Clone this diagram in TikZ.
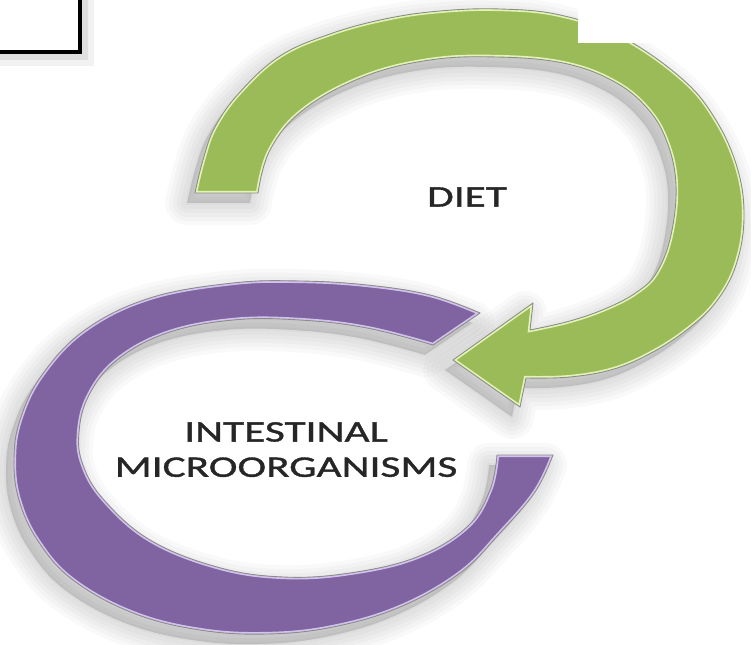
\documentclass[tikz,border=0pt]{standalone}
\usepackage{fontspec}
\usepackage{tikz}
\usetikzlibrary{positioning}
\newfontfamily\labelfont[FakeStretch=1.45,FakeBold=1.2]{Carlito}
\definecolor{dietgreen}{HTML}{9BBB59}
\definecolor{diethi}{HTML}{E2F5B4}
\definecolor{microviolet}{HTML}{8064A2}
\definecolor{microhi}{HTML}{D2C3EC}
\definecolor{rimgrey}{HTML}{8C8C8C}
\definecolor{labelgrey}{HTML}{262626}

\begin{document}
\begin{tikzpicture}[x=0.02cm, y=-0.02cm,
    lbl/.style={font=\labelfont\fontsize{17}{20}\selectfont, text=labelgrey, inner sep=0pt},
    softshadow/.style={fill=black, draw=black, fill opacity=0.025, draw opacity=0.025, line join=round},
    rim/.style={draw=rimgrey, line width=0.5pt, line join=round}]
\useasboundingbox (0,0) rectangle (751,645);
% outline of the green arrow and of the purple ring, in pixels
\def\greenring{plot[smooth, tension=0.65] coordinates {(195,193) (203,160) (215,127) (240,92) (280,56) (330,34) (385,19) (440,11) (500,9) (560,15) (620,36) (680,77) (714,117) (737,167) (744,217) (736,265) (716,302) (688,329) (653,352) (614,369) (570,377) (526,378)}
  -- (520,407) -- (453,360) -- (533,303) -- (530,330)
  -- plot[smooth, tension=0.65] coordinates {(530,330) (570,321) (607,308) (637,292) (657,272) (671,235) (676,185) (667,142) (647,108) (613,81) (563,63) (497,57) (430,60) (363,77) (303,110) (270,150) (258,193)} -- cycle}
\def\purplering{plot[smooth, tension=0.65] coordinates {(480,313) (430,295) (367,285) (300,281) (233,283) (150,298) (85,330) (42,375) (20,420) (14,460) (19,500) (38,541) (73,580) (133,613) (200,630) (267,634) (333,627) (400,607) (460,573) (500,533) (535,492) (553,455)}
  -- (497,455)
  -- plot[smooth, tension=0.65] coordinates {(497,455) (490,490) (467,527) (417,557) (350,573) (283,577) (217,567) (150,540) (104,500) (83,465) (79,432) (89,395) (117,360) (167,333) (233,320) (300,320) (367,328) (433,345)} -- cycle}

% soft shadows
\foreach \w in {44,36,28,20,12,4}{
  \path[softshadow, line width=\w*0.569pt, shift={(-8,10)}] \greenring;
  \path[softshadow, line width=\w*0.569pt, shift={(-8,10)}] \purplering;
}

% green arrow
\fill[dietgreen] \greenring;
\begin{scope}
  \clip \greenring;
  \draw[diethi, line width=2.4pt] \greenring;
\end{scope}
\draw[rim] \greenring;

% purple ring
\fill[microviolet] \purplering;
\begin{scope}
  \clip \purplering;
  \draw[microhi, line width=2.4pt] \purplering;
\end{scope}
\draw[rim] \purplering;

% patch over the top right
\fill[white] (578,-10) rectangle (760,43);

% corner of the box at top left
\draw[black!5, line width=9pt] (-20,-20) rectangle (86,58);
\draw[black!12, line width=4pt] (-20,-20) rectangle (84,56);
\draw[black, line width=2.3pt] (-20,-20) rectangle (80,52);

\node[lbl] (diet) at (467,197) {DIET};
\node[lbl] (intest) at (286,432) {INTESTINAL};
\node[lbl, below=8.5pt of intest] (micro) {MICROORGANISMS};
\end{tikzpicture}
\end{document}
